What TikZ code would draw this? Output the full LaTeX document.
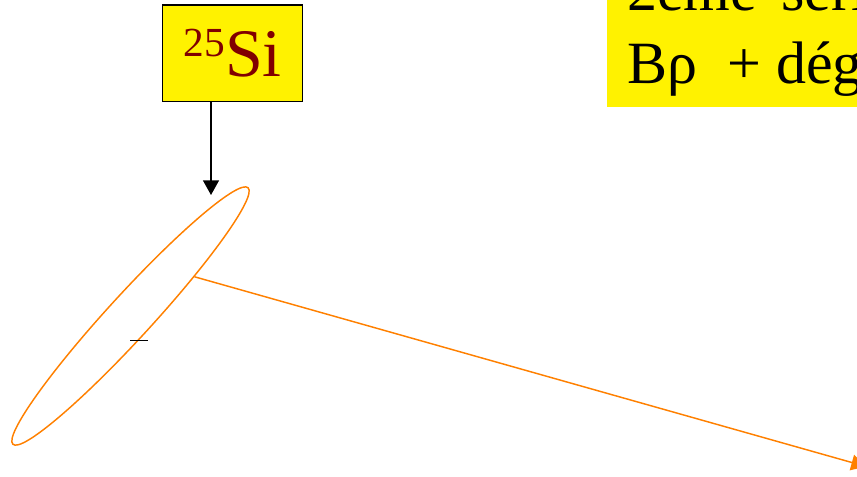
\documentclass[tikz,border=0pt]{standalone}
\usepackage{fontspec}
\setmainfont{Liberation Serif}
\usetikzlibrary{shapes.geometric,arrows.meta}
\definecolor{siorange}{RGB}{255,128,0}
\definecolor{simaroon}{RGB}{128,0,0}
\tikzset{
  labelbox/.style={draw=black, line width=1pt, fill=yellow, inner sep=0pt,
    minimum width=105pt, minimum height=72.5pt, text=simaroon},
  notebox/.style={fill=yellow, inner sep=0pt, anchor=north west,
    minimum width=200pt, minimum height=82pt},
  notetext/.style={inner sep=0pt, anchor=base west, font=\fontsize{45pt}{54pt}\selectfont},
  ringshape/.style={ellipse, draw=siorange, line width=1.1pt, inner sep=0pt,
    minimum width=261pt, minimum height=33pt},
  beamline/.style={draw=siorange, line width=1.1pt, -{Triangle[length=11pt,width=12pt]}},
  feedline/.style={draw=black, line width=1pt, -{Triangle[length=11pt,width=12pt]}}
}
\begin{document}
\begin{tikzpicture}[x=0.75pt,y=-0.75pt]
\useasboundingbox (0,0) rectangle (857,476);
\clip (0,0) rectangle (857,476);
% top-right note
\node[notebox] (note) at (607,-3) {};
\node[notetext] (line1) at (627,10) {2ème\hspace{18pt}série};
\node[notetext] (line2) at (627,83) {Bρ\ \ + dégradeur};
% 25Si box
\node[labelbox] (si) at (232.7,53.3)
  {\fontsize{51pt}{51pt}\selectfont\raisebox{15pt}{\fontsize{31pt}{31pt}\selectfont 25}Si};
% ellipse
\node[ringshape, rotate=47.5] (el) at (130.5,316) {};
% arrows
\coordinate (sitip) at (211,195);
\draw[feedline] (sitip |- si.south) -- (sitip);
\coordinate (beamend) at (866,466.5);
\draw[beamline] (el.-16) -- (beamend);
% small mark
\coordinate (markA) at (130,340.5);
\coordinate (markB) at (148,340.5);
\draw[line width=1pt] (markA) -- (markB);
\end{tikzpicture}
\end{document}
